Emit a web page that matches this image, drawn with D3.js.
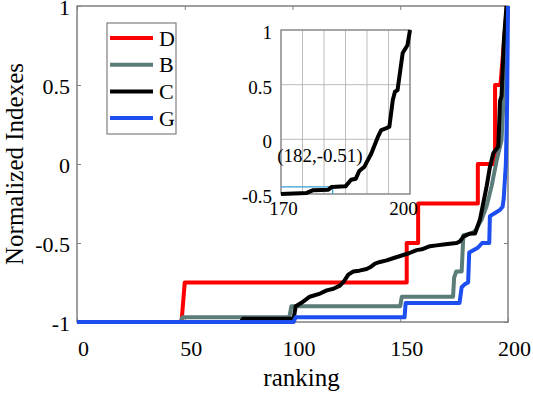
<!DOCTYPE html>
<html>
<head>
<meta charset="utf-8">
<script src="https://cdn.jsdelivr.net/npm/d3@7"></script>
<style>
  body { margin: 0; background: #fff; }
  svg { display: block; }
  svg text { font-family: "Liberation Serif", "Times New Roman", Times, "DejaVu Serif", serif; fill: #000; }
  .axis line { stroke: #808080; }
</style>
</head>
<body>
<div id="chart"></div>
<script>
// ---- data ----
const xTicks = [0, 50, 100, 150, 200];
const yTicks = [-1, -0.5, 0, 0.5, 1];

const seriesNames = ["D", "B", "C", "G"];
const seriesColors = ["#ff0000", "#5b7c79", "#000000", "#1d4ef0"];

const rankD = [0, 48.5, 50, 153, 153, 158.3, 158.3, 186, 186, 194, 194, 196.5, 199.5];
const valD = [-1, -1, -0.75, -0.75, -0.5, -0.5, -0.25, -0.25, 0, 0, 0.5, 0.5, 1];

const rankB = [0, 48, 49, 98.5, 99.5, 150, 150.7, 174.5, 175, 176, 178.5, 179.3, 183, 185, 187.8, 190, 192.4, 194.7, 197, 198, 200];
const valB = [-1, -1, -0.97, -0.97, -0.9, -0.9, -0.84, -0.84, -0.72, -0.68, -0.68, -0.45, -0.44, -0.42, -0.35, -0.27, -0.14, 0.02, 0.15, 0.43, 1];

const rankC = [0, 76, 77, 100.5, 101.5, 104, 108, 112.8, 115.9, 119, 122, 124, 125.9, 128.2, 131, 134.4, 136, 138.3, 140.6, 143.7, 147, 151.4, 154, 157.6, 160, 163.8, 166.9, 170, 173, 176.2, 177.7, 179.3, 182.4, 184.7, 187, 188.5, 190.1, 191.6, 193.2, 195.5, 196.3, 197, 198.1, 199.3];
const valC = [-1, -1, -0.98, -0.98, -0.9, -0.88, -0.84, -0.82, -0.8, -0.79, -0.77, -0.74, -0.7, -0.68, -0.675, -0.665, -0.654, -0.63, -0.62, -0.61, -0.595, -0.576, -0.565, -0.545, -0.54, -0.52, -0.515, -0.51, -0.505, -0.5, -0.49, -0.46, -0.44, -0.44, -0.35, -0.25, -0.14, -0.02, 0.07, 0.11, 0.4, 0.43, 0.785, 1];

const rankG = [0, 100.5, 101.5, 152, 152.5, 177.5, 178.5, 180, 181.5, 182, 186, 188, 191.3, 191.6, 194, 196.3, 197.5, 198, 199, 199.6, 200];
const valG = [-1, -1, -0.97, -0.97, -0.88, -0.88, -0.78, -0.76, -0.75, -0.56, -0.53, -0.5, -0.5, -0.33, -0.31, -0.29, -0.27, -0.22, 0.0, 0.4, 1];

// inset: zoom on C between rank 170 and 200
const insetXTicks = [170, 175, 180, 185, 190, 195, 200];
const insetXLabels = [170, 200];
const insetYTicks = [-0.5, 0, 0.5, 1];
const zoomRank = [170, 176, 177.5, 181, 181.8, 185, 186.3, 187.4, 188.2, 189.4, 191, 192.5, 193.3, 194.4, 195.2, 196, 196.5, 197.1, 198.3, 199.4, 200];
const zoomVal = [-0.5, -0.49, -0.465, -0.46, -0.435, -0.43, -0.37, -0.36, -0.29, -0.25, -0.13, 0.02, 0.085, 0.1, 0.115, 0.36, 0.435, 0.45, 0.79, 0.86, 1];
const tipRank = 182;
const tipValue = -0.51;

const series = [
  { name: "D", rank: rankD, val: valD },
  { name: "B", rank: rankB, val: valB },
  { name: "C", rank: rankC, val: valC },
  { name: "G", rank: rankG, val: valG }
];

// ---- layout ----
const containerWidth = 533, containerHeight = 395;
const margin = { top: 6, right: 25, bottom: 73, left: 77 };
const width = containerWidth - margin.left - margin.right;
const height = containerHeight - margin.top - margin.bottom;
const boxColor = "#808080";
const serif = "'Liberation Serif', 'Times New Roman', Times, serif";

const svg = d3.select("#chart").append("svg")
  .attr("width", containerWidth)
  .attr("height", containerHeight)
  .attr("font-family", serif);

const chart = svg.append("g")
  .attr("transform", `translate(${margin.left},${margin.top})`);

const xScale = d3.scaleLinear().domain([0, 200]).range([0, width]);
const yScale = d3.scaleLinear().domain([-1, 1]).range([height, 0]);

const fmt = d => (d === 0 ? "0" : String(d));

// axes, ticks pointing inward like the original
const xAxisG = chart.append("g")
  .attr("class", "axis x-axis")
  .attr("transform", `translate(0,${height})`)
  .call(d3.axisBottom(xScale).tickValues(xTicks).tickSizeInner(-4).tickSizeOuter(0).tickPadding(18).tickFormat(fmt));
xAxisG.selectAll("text").attr("font-size", 22).attr("dx", 6);

chart.append("g")
  .attr("class", "axis")
  .call(d3.axisTop(xScale).tickValues(xTicks).tickSizeInner(-4).tickSizeOuter(0).tickFormat(""));

const yAxisG = chart.append("g")
  .attr("class", "axis y-axis")
  .call(d3.axisLeft(yScale).tickValues(yTicks).tickSizeInner(-4).tickSizeOuter(0).tickPadding(7).tickFormat(fmt));
yAxisG.selectAll("text").attr("font-size", 22).attr("dy", "0.4em");

chart.append("g")
  .attr("class", "axis")
  .attr("transform", `translate(${width},0)`)
  .call(d3.axisRight(yScale).tickValues(yTicks).tickSizeInner(-4).tickSizeOuter(0).tickFormat(""));

chart.selectAll(".axis").attr("font-family", serif);
chart.selectAll(".axis .domain").remove();

chart.append("rect")
  .attr("width", width)
  .attr("height", height)
  .attr("fill", "none")
  .attr("stroke", boxColor)
  .attr("stroke-width", 1.5);

// axis labels
chart.append("text")
  .attr("x", width / 2 + 9)
  .attr("y", height + 64)
  .attr("text-anchor", "middle")
  .attr("font-size", 25)
  .text("ranking");

chart.append("text")
  .attr("transform", "rotate(-90)")
  .attr("x", -height / 2)
  .attr("y", -54)
  .attr("text-anchor", "middle")
  .attr("font-size", 25)
  .text("Normalized Indexes");

// lines
const line = d3.line()
  .x(d => xScale(d[0]))
  .y(d => yScale(d[1]));

chart.append("g")
  .attr("class", "lines")
  .selectAll("path")
  .data(series)
  .join("path")
  .attr("d", s => line(d3.zip(s.rank, s.val)))
  .attr("fill", "none")
  .attr("stroke", s => seriesColors[seriesNames.indexOf(s.name)])
  .attr("stroke-width", 4)
  .attr("stroke-linejoin", "round");

// legend
const legend = svg.append("g")
  .attr("transform", "translate(107,23)");

legend.append("rect")
  .attr("width", 69)
  .attr("height", 111)
  .attr("fill", "#fff")
  .attr("stroke", boxColor)
  .attr("stroke-width", 1.2);

const rows = legend.selectAll("g.row")
  .data(seriesNames)
  .join("g")
  .attr("class", "row")
  .attr("transform", (d, i) => `translate(0,${15 + i * 26.7})`);

rows.append("line")
  .attr("x1", 3)
  .attr("x2", 46)
  .attr("stroke", (d, i) => seriesColors[i])
  .attr("stroke-width", 4);

rows.append("text")
  .attr("x", 52)
  .attr("dy", "0.35em")
  .attr("font-size", 22)
  .text(d => d);

// ---- inset ----
const inset = { left: 281, top: 30, width: 129, height: 164 };

const ix = d3.scaleLinear().domain([170, 200]).range([0, inset.width]);
const iy = d3.scaleLinear().domain([-0.5, 1]).range([inset.height, 0]);

const insetG = svg.append("g")
  .attr("transform", `translate(${inset.left},${inset.top})`);

insetG.append("rect")
  .attr("width", inset.width)
  .attr("height", inset.height)
  .attr("fill", "#fff");

// grid
insetG.append("g")
  .selectAll("line.vgrid")
  .data(insetXTicks)
  .join("line")
  .attr("x1", d => ix(d))
  .attr("x2", d => ix(d))
  .attr("y1", 0)
  .attr("y2", inset.height)
  .attr("stroke", "#bdbdbd")
  .attr("stroke-width", 1);

insetG.append("g")
  .selectAll("line.hgrid")
  .data(insetYTicks)
  .join("line")
  .attr("x1", 0)
  .attr("x2", inset.width)
  .attr("y1", d => iy(d))
  .attr("y2", d => iy(d))
  .attr("stroke", "#bdbdbd")
  .attr("stroke-width", 1);

insetG.append("rect")
  .attr("width", inset.width)
  .attr("height", inset.height)
  .attr("fill", "none")
  .attr("stroke", boxColor)
  .attr("stroke-width", 1.2);

const iyAxis = insetG.append("g")
  .attr("class", "axis")
  .call(d3.axisLeft(iy).tickValues(insetYTicks).tickSize(0).tickPadding(9).tickFormat(fmt));
iyAxis.selectAll("text").attr("font-size", 19).attr("dy", "0.45em");

const ixAxis = insetG.append("g")
  .attr("class", "axis")
  .attr("transform", `translate(0,${inset.height})`)
  .call(d3.axisBottom(ix).tickValues(insetXLabels).tickSize(0).tickPadding(8).tickFormat(fmt));
ixAxis.selectAll("text")
  .attr("font-size", 19)
  .attr("dx", d => (d === 200 ? -7 : 2));
insetG.selectAll(".axis").attr("font-family", serif);
insetG.selectAll(".axis .domain").remove();

// data tip guide at the marked rank
const tipY = d3.scaleLinear().domain(zoomRank).range(zoomVal)(tipRank);

insetG.append("path")
  .attr("d", `M0,${iy(tipY)}H${ix(tipRank)}V${inset.height}`)
  .attr("fill", "none")
  .attr("stroke", "#3a9ed8")
  .attr("stroke-width", 1.3);

const insetLine = d3.line()
  .x(d => ix(d[0]))
  .y(d => iy(d[1]));

insetG.append("path")
  .attr("d", insetLine(d3.zip(zoomRank, zoomVal)))
  .attr("fill", "none")
  .attr("stroke", "#000")
  .attr("stroke-width", 4)
  .attr("stroke-linejoin", "round");

insetG.append("text")
  .attr("x", ix(tipRank) + 30)
  .attr("y", iy(tipY) - 25)
  .attr("text-anchor", "end")
  .attr("font-size", 19)
  .text(`(${tipRank},${tipValue})`);
</script>
</body>
</html>
